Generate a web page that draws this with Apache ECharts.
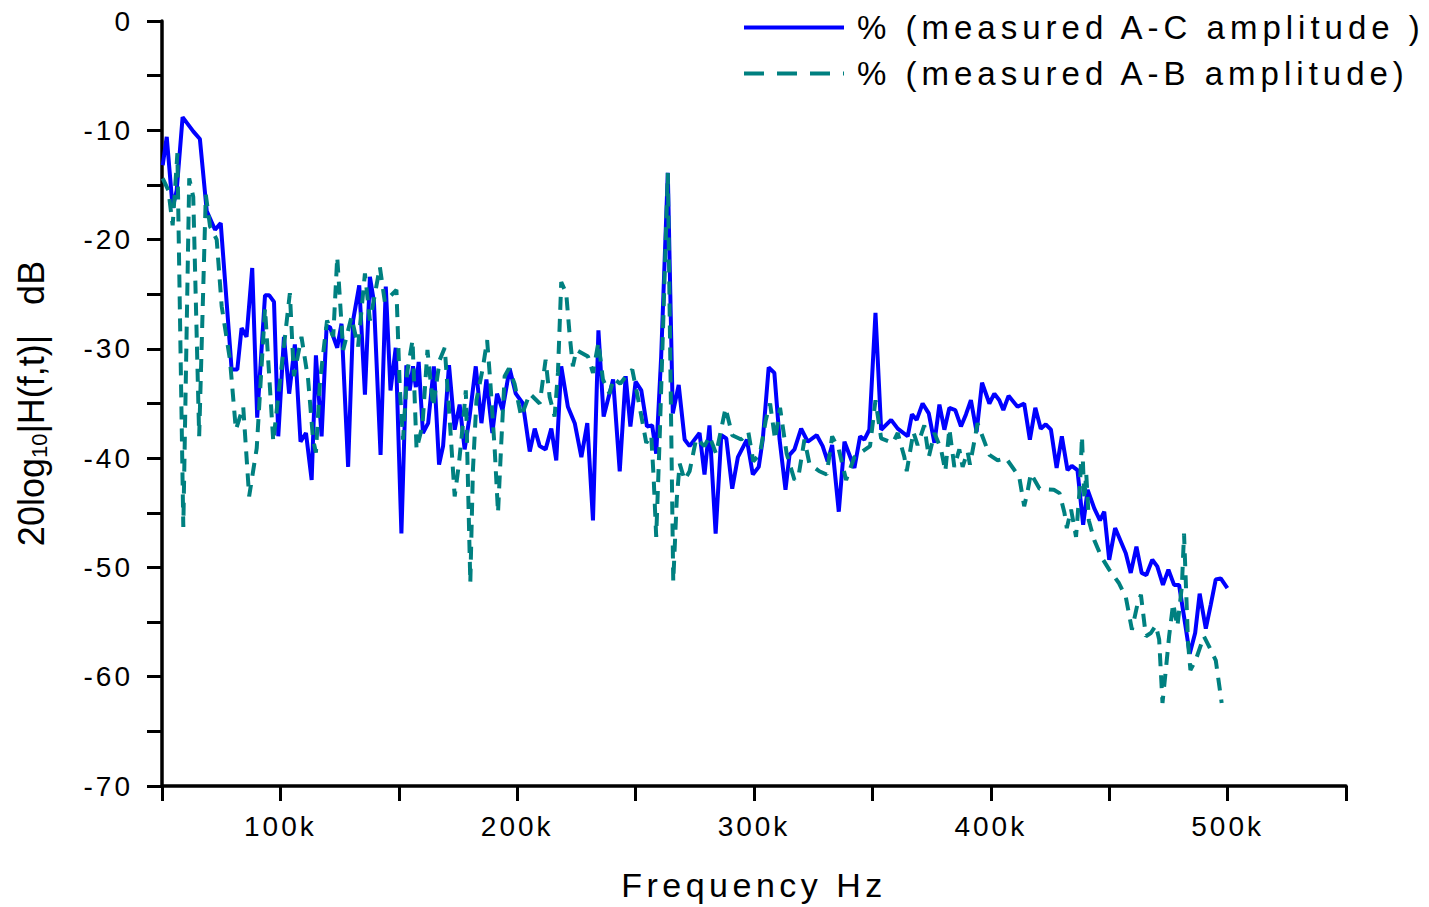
<!DOCTYPE html>
<html>
<head>
<meta charset="utf-8">
<script src="https://cdn.jsdelivr.net/npm/echarts@6/dist/echarts.min.js"></script>
<style>
  html, body { margin: 0; padding: 0; background: #fff; }
  #chart { width: 1429px; height: 907px; }
  #chart text { letter-spacing: 0; }
  #chart text[style*="28px"] { letter-spacing: 3px; }
  #chart text[style*="33px"] { letter-spacing: 5px; }
  #chart text[style*="34px"] { letter-spacing: 4.5px; }
</style>
</head>
<body>
<div id="chart"></div>
<script>
// frequencies in kHz, amplitudes in dB
const freqAC = [
  50.3, 52, 54.5, 56.2, 58.7, 63.2, 66, 68.9, 72.4, 74.8,
  78.7, 79.4, 81.8, 83.6, 85.7, 88.1, 90.2, 93.5, 95.3, 97.3,
  99.1, 101.5, 103.7, 106.1, 108.5, 110.8, 113.2, 115, 117.4, 119.5,
  120.9, 124, 125.8, 128.6, 130.7, 133.3, 135.7, 137.8, 139.5, 142.3,
  144.5, 146.5, 148.7, 151.1, 153.2, 154.6, 156, 157.2, 158.4, 160.2,
  162.4, 164.8, 167, 168.7, 171.2, 173.6, 175.7, 177.8, 179.9, 182.5,
  184.9, 187, 189.5, 191.5, 193.8, 196.8, 199.4, 202.4, 205.3, 207.4,
  209.5, 212, 214.4, 216.5, 218.6, 221.4, 224.3, 227.1, 229.6, 232,
  234.3, 236.5, 240.5, 243.3, 245.8, 247.8, 250, 252.4, 254.8, 257,
  258.7, 260.8, 263.6, 265.7, 268.2, 270.7, 272.8, 277, 279.1, 281.2,
  283.8, 286.2, 288.3, 290.8, 293.2, 297, 299.5, 302, 303.7, 306.2,
  308.6, 310.8, 313.3, 315, 317.1, 319.9, 322.7, 326.5, 329, 331.1,
  333, 335.8, 338.2, 342.4, 344.8, 346.6, 348.7, 351.3, 353.7, 357.9,
  360.7, 364.9, 366.7, 368.7, 371.2, 373.8, 376.2, 378.3, 380.4, 382.5,
  385, 387.4, 389.5, 391.6, 394, 396.3, 399.4, 401.5, 403.6, 405.3,
  407.5, 411.3, 414.1, 416.5, 418.8, 421.1, 423.2, 425.4, 427.8, 430,
  432.4, 434.2, 436.6, 439, 440.9, 443.7, 446.1, 447.9, 450, 452.5,
  457, 459.1, 461.5, 463.7, 465.7, 468.2, 470.3, 472.7, 475, 477.4,
  479.5, 481.6, 484, 486.3, 488.2, 490.8, 492.9, 495, 497.1, 499.9
]
const ampAC = [
  -13.2, -10.6, -17.1, -15.5, -8.8, -10.1, -10.8, -17.4, -19.1, -18.5,
  -29.8, -31.9, -31.9, -28.1, -28.9, -22.6, -36.3, -25.1, -25.1, -25.7,
  -38.0, -28.9, -34.1, -29.6, -38.5, -37.7, -42.0, -30.6, -38.0, -28.0,
  -28.0, -29.9, -27.7, -40.8, -27.4, -24.2, -34.2, -23.4, -25.7, -39.7,
  -24.3, -33.8, -29.9, -46.9, -31.5, -33.8, -31.6, -33.5, -31.2, -37.7,
  -36.8, -31.6, -40.6, -38.9, -31.5, -37.4, -35.1, -39.2, -36.2, -31.6,
  -36.8, -32.8, -37.7, -34.1, -35.6, -31.8, -34.1, -35.0, -39.4, -37.3,
  -38.9, -39.2, -37.3, -40.2, -31.6, -35.3, -36.8, -39.9, -36.8, -45.7,
  -28.3, -36.2, -32.8, -41.2, -32.5, -37.1, -33.0, -33.8, -37.1, -37.0,
  -39.6, -30.7, -13.9, -35.9, -33.3, -38.3, -38.9, -37.7, -41.5, -37.0,
  -46.9, -37.9, -38.2, -42.8, -39.9, -38.3, -41.5, -40.8, -38.3, -31.7,
  -32.2, -38.3, -42.9, -39.7, -39.2, -37.3, -38.5, -37.9, -38.9, -40.3,
  -38.8, -44.9, -38.5, -40.9, -38.0, -38.3, -37.4, -26.7, -37.4, -36.5,
  -37.3, -38.0, -36.0, -36.5, -35.0, -35.9, -38.6, -35.1, -37.4, -35.4,
  -35.6, -37.1, -36.0, -34.7, -37.6, -33.1, -35.0, -34.1, -34.7, -35.6,
  -34.3, -35.3, -35.0, -38.3, -35.4, -37.3, -36.9, -37.4, -40.9, -38.0,
  -41.1, -40.7, -41.1, -46.1, -42.9, -44.6, -45.7, -44.9, -49.3, -46.4,
  -48.7, -50.5, -48.1, -50.5, -50.7, -49.3, -49.9, -51.6, -50.2, -51.6,
  -51.6, -54.5, -57.9, -56.0, -52.4, -55.6, -53.4, -51.1, -51.0, -51.9
]

const freqAB = [
  50.3, 52.7, 54.5, 56.5, 59, 61.5, 63.2, 65.7, 68.5, 70.3,
  73.1, 75.2, 78.7, 81.2, 84.3, 86.8, 90, 93.5, 97, 98.4,
  104, 105.7, 108.9, 111.7, 113.8, 115, 116.7, 118.4, 119.7, 122.3,
  124, 126.5, 130, 132.8, 135.7, 137.8, 139.5, 142, 144.1, 149,
  150.4, 151.8, 153.5, 155.8, 157.5, 160, 162.1, 164.5, 167.3, 169.4,
  171.5, 173.6, 175.4, 177.1, 178.3, 180.2, 181.3, 182.8, 185.6, 187.3,
  188.7, 190.5, 191.9, 193.3, 194.7, 196.5, 198.9, 201.7, 205.3, 209.5,
  212, 213.7, 215.8, 217.2, 218.6, 220.7, 222.1, 223.5, 225, 229.9,
  232, 234.3, 236.2, 239, 240.7, 243.5, 246, 248.6, 251.7, 254.5,
  256.6, 257.6, 258.7, 260.1, 263.6, 265.9, 267.4, 268.6, 270.7, 272.8,
  275.6, 279.1, 281.2, 284, 288, 290.8, 294.6, 297.6, 299.7, 302.5,
  305, 306.8, 308.9, 311, 313.8, 317.1, 318.9, 321.3, 323.4, 327.6,
  330.7, 333, 335.8, 338.9, 342.4, 349, 351.3, 353.7, 358.6, 360.7,
  363.5, 364.5, 366.3, 367.3, 369.1, 371.9, 373.8, 376.2, 379, 380.8,
  382.5, 384.6, 386.7, 388.1, 390.2, 391.2, 393, 394.4, 396.3, 399.4,
  402.9, 406.4, 412, 414.1, 415.5, 416.9, 420.6, 426.6, 429, 431.1,
  432.1, 433.9, 436, 437.7, 438.5, 439.5, 440.3, 441.4, 443.7, 446.6,
  450, 454, 457, 459.6, 462, 463.4, 465.5, 467.6, 469.7, 471.1,
  472.5, 473.9, 475.3, 477, 478.8, 480.7, 481.6, 483.3, 484.3, 486.5,
  490, 492.1, 495, 497.5
]
const ampAB = [
  -14.4, -15.5, -18.7, -12.1, -46.3, -14.4, -16.1, -38.0, -15.9, -18.8,
  -20.0, -26.1, -31.0, -37.4, -35.3, -43.5, -39.1, -26.3, -38.5, -35.7,
  -24.9, -32.5, -28.9, -32.8, -38.3, -39.5, -33.1, -29.8, -27.4, -28.9,
  -21.6, -30.1, -27.1, -29.8, -23.1, -27.4, -25.5, -22.5, -25.7, -24.6,
  -33.5, -38.3, -32.2, -29.2, -39.2, -37.0, -30.1, -35.3, -31.0, -29.9,
  -36.5, -43.5, -40.5, -36.8, -33.8, -51.4, -41.1, -34.7, -31.6, -29.2,
  -33.2, -39.2, -45.0, -38.5, -32.5, -31.8, -33.2, -36.2, -34.1, -35.0,
  -31.0, -34.4, -36.2, -32.2, -23.9, -24.9, -28.6, -31.6, -30.1, -30.7,
  -32.2, -29.4, -32.8, -34.1, -32.7, -33.2, -32.5, -31.9, -35.3, -38.6,
  -37.9, -41.7, -47.2, -38.6, -13.9, -51.3, -43.7, -40.5, -42.0, -41.2,
  -38.2, -38.9, -38.0, -39.6, -35.4, -37.9, -38.3, -37.6, -40.3, -39.6,
  -36.5, -35.0, -38.3, -35.4, -39.6, -42.0, -41.5, -38.3, -40.5, -41.2,
  -41.5, -38.0, -39.2, -42.0, -39.9, -38.9, -34.7, -38.2, -38.6, -37.7,
  -39.9, -41.2, -38.9, -37.6, -38.8, -37.0, -39.9, -37.7, -39.2, -41.2,
  -37.3, -40.8, -39.2, -40.8, -39.4, -40.6, -38.5, -36.8, -37.9, -39.7,
  -40.2, -40.0, -41.7, -44.4, -43.1, -41.4, -42.8, -42.9, -43.2, -45.0,
  -46.4, -44.7, -47.2, -42.3, -38.0, -43.8, -41.4, -45.7, -47.5, -49.0,
  -50.2, -51.4, -52.7, -55.7, -53.3, -52.5, -56.3, -56.0, -55.3, -56.6,
  -62.4, -59.4, -56.3, -53.3, -55.4, -51.7, -46.9, -56.9, -59.4, -58.5,
  -56.3, -57.2, -58.5, -62.4
]

const seriesNames = ['% (measured A-C amplitude )', '% (measured A-B amplitude)']

const zip = (xs, ys) => xs.map((x, i) => [x, ys[i]])

const chart = echarts.init(document.getElementById('chart'), null, { renderer: 'svg' })

const font = 'Liberation Sans'

chart.setOption({
  animation: false,
  backgroundColor: '#fff',
  grid: { left: 162, right: 83, top: 21, bottom: 121 },
  legend: {
    orient: 'vertical',
    left: 737,
    top: 6,
    itemWidth: 100,
    itemHeight: 18,
    itemGap: 13,
    itemStyle: { opacity: 0 },
    textStyle: { fontSize: 33, fontFamily: font, color: '#000', padding: [0, 0, 0, 8] },
    data: [
      { name: seriesNames[0], lineStyle: { width: 4 } },
      { name: seriesNames[1], lineStyle: { width: 4, type: [20, 13] } }
    ]
  },
  xAxis: {
    type: 'value',
    min: 50,
    max: 550,
    interval: 50,
    name: 'Frequency Hz',
    nameLocation: 'middle',
    nameGap: 82,
    nameTextStyle: { fontSize: 34, fontFamily: font, color: '#000' },
    axisLine: { onZero: false, lineStyle: { color: '#000', width: 3.5 } },
    axisTick: { length: 15, lineStyle: { color: '#000', width: 3 } },
    axisLabel: {
      fontSize: 28,
      fontFamily: font,
      color: '#000',
      margin: 26,
      formatter: v => (v % 100 === 0 && v >= 100 && v <= 500) ? v + 'k' : ''
    },
    splitLine: { show: false }
  },
  yAxis: {
    type: 'value',
    min: -70,
    max: 0,
    interval: 5,
    name: '{m|20log}{s|10}{m||H(f,t)|   dB}',
    nameLocation: 'middle',
    nameGap: 112,
    nameTextStyle: {
      fontFamily: 'Arial',
      color: '#000',
      rich: {
        m: { fontSize: 36, fontFamily: 'Arial', color: '#000' },
        s: { fontSize: 22, fontFamily: 'Arial', color: '#000', padding: [16, 0, 0, 0] }
      }
    },
    axisLine: { show: true, onZero: false, lineStyle: { color: '#000', width: 3.5 } },
    axisTick: { show: true, length: 15, lineStyle: { color: '#000', width: 3 } },
    axisLabel: {
      fontSize: 28,
      fontFamily: font,
      color: '#000',
      margin: 29,
      formatter: v => (v % 10 === 0) ? String(v) : ''
    },
    splitLine: { show: false }
  },
  series: [
    {
      name: seriesNames[0],
      type: 'line',
      symbol: 'none',
      data: zip(freqAC, ampAC),
      lineStyle: { color: '#0000ff', width: 4 },
      itemStyle: { color: '#0000ff' }
    },
    {
      name: seriesNames[1],
      type: 'line',
      symbol: 'none',
      data: zip(freqAB, ampAB),
      lineStyle: { color: '#008080', width: 4, type: [13, 9] },
      itemStyle: { color: '#008080' }
    }
  ]
})
</script>
</body>
</html>
